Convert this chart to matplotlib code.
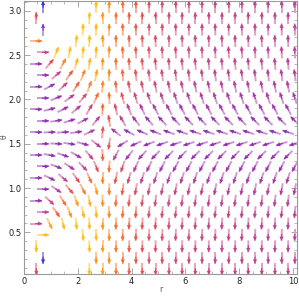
import numpy as np
import matplotlib
matplotlib.use('Agg')
import matplotlib.pyplot as plt
from matplotlib.collections import LineCollection

N = None
# column positions (hexagonal lattice: even rows / odd rows)
R_EVEN = [0.71, 1.20, 1.69, 2.19, 2.68, 3.17, 3.67, 4.16, 4.65, 5.14,
          5.64, 6.13, 6.62, 7.11, 7.61, 8.10, 8.59, 9.08, 9.58, 10.07]
R_ODD = [0.46, 0.95, 1.45, 1.94, 2.43, 2.92, 3.42, 3.91, 4.40, 4.89,
         5.39, 5.88, 6.37, 6.87, 7.36, 7.85, 8.34, 8.84, 9.33, 9.82]
THETA_ROWS = [3.045, 2.916, 2.788, 2.659, 2.530, 2.401, 2.273, 2.144,
              2.015, 1.887, 1.758, 1.629, 1.500, 1.372, 1.243, 1.114,
              0.986, 0.857, 0.728, 0.599, 0.471, 0.342, 0.213, 0.085]

# on-screen arrow direction (degrees)
ANGLES = [
    [90, N, N, N, 89, 90, 90, 90, 90, 90, 90, 90, 90, 90, 90, 90, 90, 90, 90, 90],
    [90, N, N, N, 88, 90, 90, 90, 90, 90, 90, 90, 90, 90, 90, 90, 90, 90, 90, 90],
    [90, N, N, 87, 89, 90, 91, 91, 91, 91, 91, 91, 91, 91, 91, 91, 91, 91, 91, 91],
    [0, N, N, 83, 87, 90, 91, 92, 92, 92, 92, 92, 92, 92, 92, 92, 92, 92, 92, 92],
    [0, 68, 79, 84, 87, 90, 92, 93, 93, 93, 93, 93, 93, 93, 93, 93, 93, 93, 93, 93],
    [0, 50, 62, 74, 82, 88, 92, 94, 95, 95, 95, 95, 95, 95, 95, 95, 95, 95, 95, 95],
    [0, 40, 55, 68, 79, 90, 94, 96, 97, 97, 97, 97, 97, 97, 97, 97, 97, 97, 97, 97],
    [0, 28, 44, 57, 70, 86, 96, 100, 101, 101, 101, 101, 101, 101, 101, 101, 101, 101, 101, 101],
    [0, 22, 36, 50, 66, 92, 104, 107, 108, 108, 108, 108, 108, 108, 108, 108, 108, 108, 108, 108],
    [0, 14, 27, 40, 60, 88, 103, 111, 115, 117, 118, 118, 118, 118, 118, 118, 118, 118, 118, 118],
    [0, 9, 17, 27, 50, 98, 120, 128, 131, 133, 134, 134, 135, 135, 135, 135, 135, 135, 135, 135],
    [0, 2, 4, 8, 25, 85, 142, 152, 157, 159, 160, 161, 162, 162, 162, 162, 162, 162, 162, 162],
    [0, -3, -8, -15, -38, -98, -148, -156, -159, -161, -162, -162, -162, -162, -162, -162, -162, -162, -162, -162],
    [0, -10, -19, -30, -50, -88, -118, -128, -132, -134, -135, -135, -135, -135, -135, -135, -135, -135, -135, -135],
    [0, -20, -33, -46, -68, -94, -108, -114, -116, -117, -118, -118, -118, -118, -118, -118, -118, -118, -118, -118],
    [0, -25, -40, -55, -66, -90, -102, -106, -107, -108, -108, -108, -108, -108, -108, -108, -108, -108, -108, -108],
    [0, -34, -50, -63, -76, -91, -98, -100, -101, -101, -101, -101, -101, -101, -101, -101, -101, -101, -101, -101],
    [0, -42, -58, -70, -80, -89, -94, -96, -97, -97, -97, -97, -97, -97, -97, -97, -97, -97, -97, -97],
    [0, -55, -68, -78, -85, -90, -93, -94, -95, -95, -95, -95, -95, -95, -95, -95, -95, -95, -95, -95],
    [0, -64, -76, -84, -88, -90, -92, -93, -93, -93, -93, -93, -93, -93, -93, -93, -93, -93, -93, -93],
    [0, N, N, -85, -88, -90, -91, -92, -92, -92, -92, -92, -92, -92, -92, -92, -92, -92, -92, -92],
    [-90, N, N, N, -88, -90, -91, -91, -91, -91, -91, -91, -91, -91, -91, -91, -91, -91, -91, -91],
    [-90, N, N, N, -89, -90, -90, -90, -90, -90, -90, -90, -90, -90, -90, -90, -90, -90, -90, -90],
    [-90, N, N, N, -89, -90, -90, -90, -90, -90, -90, -90, -90, -90, -90, -90, -90, -90, -90, -90],
]

# colour level (magnitude class) of each arrow, 0 = purple ... 100 = yellow, >100 = blue
LEVELS = [
    [120, N, N, N, 95, 80, 70, 62, 56, 52, 49, 46, 44, 42, 40, 39, 38, 37, 36, 35],
    [55, N, N, N, 96, 84, 74, 64, 58, 53, 50, 47, 45, 43, 41, 40, 38, 37, 36, 35],
    [105, N, N, 97, 94, 80, 70, 62, 56, 52, 49, 46, 44, 42, 40, 39, 38, 37, 36, 35],
    [75, N, N, 97, 95, 83, 73, 64, 58, 53, 50, 47, 45, 43, 41, 40, 38, 37, 36, 35],
    [42, 96, 97, 96, 93, 80, 70, 62, 56, 51, 48, 45, 43, 41, 40, 38, 37, 36, 35, 34],
    [8, 52, 76, 93, 94, 82, 72, 63, 56, 51, 48, 45, 43, 41, 39, 38, 37, 36, 35, 34],
    [6, 40, 63, 78, 88, 78, 67, 58, 52, 48, 45, 42, 40, 38, 37, 36, 35, 34, 33, 32],
    [6, 15, 45, 65, 78, 78, 66, 55, 48, 44, 40, 38, 36, 34, 33, 32, 31, 30, 29, 28],
    [5, 10, 30, 50, 70, 74, 58, 46, 40, 36, 33, 31, 29, 28, 27, 26, 25, 25, 24, 24],
    [3, 8, 15, 30, 45, 70, 52, 36, 28, 24, 22, 21, 20, 20, 19, 19, 18, 18, 18, 18],
    [5, 6, 10, 18, 38, 62, 35, 22, 16, 14, 13, 12, 12, 12, 12, 11, 11, 11, 11, 11],
    [4, 4, 6, 10, 28, 58, 22, 12, 8, 6, 5, 5, 5, 5, 5, 5, 5, 5, 5, 5],
    [4, 4, 7, 12, 32, 58, 18, 10, 7, 6, 5, 5, 5, 5, 5, 5, 5, 5, 5, 5],
    [4, 6, 10, 22, 40, 65, 40, 24, 17, 14, 13, 12, 12, 12, 12, 11, 11, 11, 11, 11],
    [4, 10, 22, 36, 55, 72, 50, 34, 27, 23, 21, 20, 20, 19, 19, 18, 18, 18, 18, 18],
    [5, 14, 38, 55, 72, 78, 60, 46, 38, 34, 32, 30, 29, 28, 27, 26, 25, 25, 24, 24],
    [10, 32, 60, 75, 84, 76, 64, 54, 48, 44, 40, 38, 36, 34, 33, 32, 31, 30, 29, 28],
    [8, 45, 72, 86, 92, 82, 70, 60, 53, 48, 45, 42, 40, 38, 37, 36, 35, 34, 33, 32],
    [35, 65, 84, 93, 94, 80, 70, 62, 56, 51, 48, 45, 43, 41, 39, 38, 37, 36, 35, 34],
    [40, 88, 95, 96, 95, 82, 72, 63, 57, 52, 49, 46, 44, 42, 40, 39, 38, 37, 36, 35],
    [95, N, N, 97, 95, 80, 70, 62, 56, 52, 49, 46, 44, 42, 40, 39, 38, 37, 36, 35],
    [95, N, N, N, 96, 84, 74, 64, 58, 53, 50, 47, 45, 43, 41, 40, 38, 37, 36, 35],
    [115, N, N, N, 82, 80, 70, 62, 56, 52, 49, 46, 44, 42, 40, 39, 38, 37, 36, 35],
    [52, N, N, N, 96, 84, 74, 64, 58, 53, 50, 47, 45, 43, 41, 40, 38, 37, 36, 35],
]

X_TICKS = [0, 2, 4, 6, 8, 10]
Y_TICKS = [0.5, 1.0, 1.5, 2.0, 2.5, 3.0]

STOPS = [0, 15, 30, 42, 52, 62, 72, 80, 88, 96, 100, 105, 115, 120]
STOP_COLORS = ['#8b2db3', '#9b31ae', '#b13c9e', '#c44388', '#d84a66', '#ea5546',
               '#f56f2c', '#fb8a1c', '#ffa514', '#ffbe12', '#ffc515',
               '#7a3bcf', '#3b30d6', '#2a2ae0']


def level_color(v):
    rgbs = np.array([matplotlib.colors.to_rgb(c) for c in STOP_COLORS])
    return tuple(np.interp(v, STOPS, rgbs[:, i]) for i in range(3))


fig = plt.figure(figsize=(2.99, 2.97), dpi=100)
ax = fig.add_axes([24 / 299, 1 - 274 / 297, 273 / 299, 273 / 297])
ax.set_xlim(0, 10.15)
ax.set_ylim(0.03, 3.11)

fig.canvas.draw()
bb = ax.get_window_extent()
ppx = bb.width / (10.15 - 0.0)
ppy = bb.height / (3.11 - 0.03)

L_TOT = 12.0   # px
L_HEAD = 7.0   # px, full-colour front part

segs, seg_cols = [], []
qx, qy, qu, qv, qc = [], [], [], [], []
for k, th in enumerate(THETA_ROWS):
    rs = R_EVEN if k % 2 == 0 else R_ODD
    for m, r in enumerate(rs):
        a = ANGLES[k][m]
        if a is None:
            continue
        c = level_color(LEVELS[k][m])
        ca, sa = np.cos(np.radians(a)), np.sin(np.radians(a))
        hx, hy = 0.5 * L_TOT * ca / ppx, 0.5 * L_TOT * sa / ppy
        tail = (r - hx, th - hy)
        tip = (r + hx, th + hy)
        segs.append([tail, tip])
        pale = tuple(0.5 * ci + 0.5 for ci in c)
        seg_cols.append(pale)
        qx.append(tip[0]); qy.append(tip[1])
        qu.append(L_HEAD * ca); qv.append(L_HEAD * sa)
        qc.append(c)

ax.add_collection(LineCollection(segs, colors=seg_cols, linewidths=1.4,
                                 capstyle='butt', zorder=2))
ax.quiver(qx, qy, qu, qv, color=qc, angles='uv', pivot='tip',
          scale_units='dots', scale=1, units='dots', width=1.2,
          headwidth=3.6, headlength=3.8, headaxislength=3.4, zorder=3)

for s in ax.spines.values():
    s.set_color('#9a9a9a')
    s.set_linewidth(0.8)
ax.set_xticks(X_TICKS)
ax.set_yticks(Y_TICKS)
ax.set_xticks(np.arange(0, 10.01, 0.5), minor=True)
ax.set_yticks(np.arange(0.1, 3.11, 0.1), minor=True)
ax.tick_params(which='both', direction='in', top=True, right=True,
               color='#9a9a9a', labelsize=6, labelcolor='#222222', pad=2)
ax.tick_params(which='major', length=4, width=0.6)
ax.tick_params(which='minor', length=2, width=0.5)
ax.set_xticklabels([str(t) for t in X_TICKS])
ax.set_yticklabels([f'{t:.1f}' for t in Y_TICKS])
fig.text(161 / 299, 1 - 290 / 297, 'r', fontsize=5.5, color='#555555',
         ha='center', va='center')
fig.text(4.5 / 299, 1 - 137 / 297, 'θ', fontsize=5.5, color='#555555',
         ha='center', va='center', rotation=90)

fig.savefig('out.png', dpi=100)
